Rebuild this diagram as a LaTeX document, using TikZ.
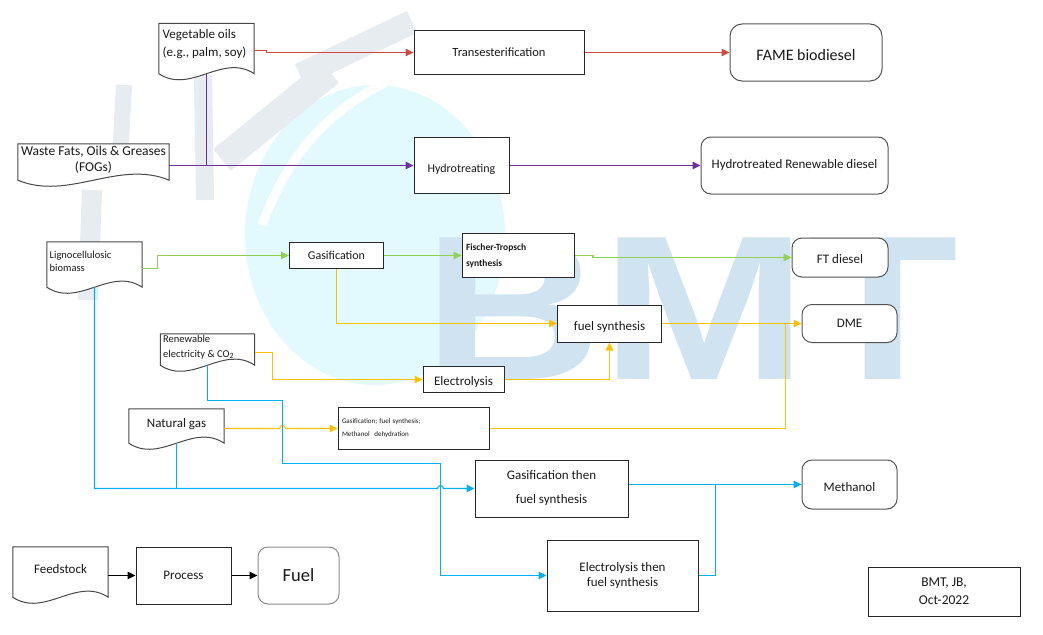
\documentclass[tikz,border=0pt]{standalone}
\usepackage{fontspec}
\setmainfont{Carlito}
\newfontfamily\wmfont{Liberation Sans}
\usetikzlibrary{arrows.meta,calc}
\definecolor{cred}{RGB}{205,72,62}
\definecolor{cpurple}{RGB}{112,48,160}
\definecolor{cgreen}{RGB}{146,208,80}
\definecolor{cyellow}{RGB}{255,192,0}
\definecolor{cblue}{RGB}{0,176,240}
\definecolor{cborder}{RGB}{40,40,40}
\definecolor{ctext}{RGB}{25,25,25}
\definecolor{wmblue}{RGB}{207,227,241}
\definecolor{wmcyan}{RGB}{226,249,253}
\definecolor{wmgrey}{RGB}{231,236,241}
\tikzset{
  every node/.style={text=ctext, inner sep=3pt},
  f13/.style={font=\fontsize{13}{16}\selectfont},
  procbox/.style={draw=cborder, fill=white, line width=1pt, rectangle, f13, align=center},
  fuelbox/.style={draw=cborder!80, fill=white, line width=1pt, rectangle, rounded corners=10pt, f13, align=center},
  docnode/.style={rectangle, inner sep=0pt},
  doctext/.style={inner sep=0pt, f13},
  docline/.style={draw=cborder!85, fill=white, line width=1pt},
  conn/.style={line width=1.1pt, -{Triangle[length=8pt,width=7.5pt]}},
  link/.style={line width=1.1pt},
  wmband/.style={draw=wmgrey, line width=22pt},
}
\newcommand{\docshape}[1]{%
  \path[docline] (#1.north west) -- (#1.north east) -- (#1.south east)
    .. controls ($(#1.south east)!0.333!(#1.south west)+(0pt,21pt)$)
       and ($(#1.south east)!0.667!(#1.south west)+(0pt,-21pt)$) .. (#1.south west) -- cycle;}
\newcommand{\lowered}[2]{\raisebox{-#1}[\height][\depth]{#2}}
\begin{document}
\begin{tikzpicture}[x=1pt,y=-1pt]
\useasboundingbox (0,0) rectangle (1043,634);
\fill[white] (0,0) rectangle (1043,634);
% ---- watermark ----
\fill[wmcyan] (375,235) ellipse [x radius=130pt, y radius=150pt];
\draw[white, line width=9pt] (262,225) .. controls (290,150) and (330,110) .. (390,80);
\draw[wmband, line width=20pt] (88,300) -- (92,190);
\draw[wmband, line width=16pt] (120,160) -- (124,85);
\draw[wmband, line width=18pt] (205,200) -- (203,75);
\draw[wmband, line width=28pt] (222,160) -- (330,72);
\draw[wmband, line width=24pt] (300,75) -- (412,22);
\node[text=wmblue, font=\wmfont\bfseries\fontsize{206}{206}\selectfont, xscale=1.2, inner sep=0pt, anchor=base west] (wm) at (423,379) {BMT};
% ---- nodes ----
\node[docnode, minimum width=95pt, minimum height=50pt] (veg) at (206.5,48.5) {};
\node[docnode, minimum width=151pt, minimum height=36pt] (waste) at (93.5,162) {};
\node[procbox, minimum width=170pt, minimum height=44pt, font=\fontsize{12.5}{15}\selectfont] (trans) at (499,52.5) {Transesterification};
\node[fuelbox, minimum width=152pt, minimum height=57pt, rounded corners=12pt, font=\fontsize{16}{19}\selectfont] (fame) at (806,52.5) {\lowered{3pt}{FAME biodiesel}};
\node[procbox, minimum width=95pt, minimum height=56pt, font=\fontsize{12}{15}\selectfont] (hydro) at (461.5,165.5) {\lowered{4pt}{Hydrotreating}};
\node[fuelbox, minimum width=187pt, minimum height=57pt] (hrd) at (794.5,165.5) {Hydrotreated Renewable diesel};
\node[docnode, minimum width=95pt, minimum height=45pt] (ligno) at (94.5,264.5) {};
\node[procbox, minimum width=94pt, minimum height=26pt, font=\fontsize{12}{15}\selectfont] (gas) at (336.5,255.5) {Gasification};
\node[procbox, minimum width=112pt, minimum height=44pt, align=left, text width=104pt, font=\bfseries\fontsize{9.5}{16}\selectfont] (ft) at (518,255.5) {Fischer-Tropsch\\synthesis};
\node[fuelbox, minimum width=96pt, minimum height=39pt] (ftd) at (840,257.5) {\lowered{2pt}{FT diesel}};
\node[procbox, minimum width=104pt, minimum height=37pt] (fs) at (609.5,323.5) {\lowered{3.5pt}{fuel synthesis}};
\node[fuelbox, minimum width=95pt, minimum height=38pt] (dme) at (849.5,323.5) {DME};
\node[docnode, minimum width=94pt, minimum height=31pt] (renew) at (207.5,349.5) {};
\node[procbox, minimum width=81pt, minimum height=26pt] (elec) at (463.5,379.5) {\lowered{3pt}{Electrolysis}};
\node[docnode, minimum width=95pt, minimum height=34pt] (ng) at (176.5,426) {};
\node[procbox, minimum width=151pt, minimum height=42pt, align=left, text width=143pt, font=\fontsize{7}{13}\selectfont] (gfm) at (413.5,428.5) {Gasification; fuel synthesis;\\Methanol\ \ dehydration};
\node[procbox, minimum width=153pt, minimum height=57pt, font=\fontsize{13}{24}\selectfont] (gtfs) at (551.5,488.5) {Gasification then\\fuel synthesis};
\node[fuelbox, minimum width=95pt, minimum height=49pt] (meth) at (849.5,484.5) {\lowered{3pt}{Methanol}};
\node[procbox, minimum width=151pt, minimum height=71pt, font=\fontsize{13}{15.5}\selectfont] (etfs) at (622.5,575.5) {Electrolysis then\\fuel synthesis};
\node[docnode, minimum width=95pt, minimum height=50pt] (feed) at (60.5,572) {};
\node[procbox, minimum width=95pt, minimum height=57pt] (proc) at (183.5,575.5) {Process};
\node[fuelbox, draw=black!45, minimum width=81pt, minimum height=57pt, font=\fontsize{18.5}{20}\selectfont] (fuel) at (298.5,575.5) {Fuel};
\node[procbox, minimum width=152pt, minimum height=49pt, font=\fontsize{13.5}{18}\selectfont] (bmt) at (944,591.5) {BMT, JB,\\Oct-2022};
% ---- document shapes and their texts ----
\docshape{veg}
\docshape{waste}
\docshape{ligno}
\docshape{renew}
\docshape{ng}
\docshape{feed}
\node[doctext, anchor=west, align=left, font=\fontsize{13}{18}\selectfont] (vegtext) at (162.5,44) {Vegetable oils\\(e.g., palm, soy)};
\node[doctext, align=center, font=\fontsize{13.5}{16}\selectfont] (wastetext) at (93.5,160) {Waste Fats, Oils \& Greases\\(FOGs)};
\node[doctext, anchor=west, align=left, font=\fontsize{10.5}{13}\selectfont] (lignotext) at (49.5,261.5) {Lignocellulosic\\biomass};
\node[doctext, anchor=west, align=left, font=\fontsize{10.5}{15}\selectfont] (renewtext) at (163,347.5) {Renewable\\electricity \& CO\raisebox{-1pt}{\fontsize{8}{8}\selectfont 2}};
\node[doctext] (ngtext) at (176.5,424) {Natural gas};
\node[doctext] (feedtext) at (60.5,569) {Feedstock};
% ---- named junction coordinates ----
\coordinate (vegb) at ($(veg.south west)!0.5!(veg.south east)$);
\coordinate (lignob) at ($(ligno.south west)!0.5!(ligno.south east)$);
\coordinate (renewb) at ($(renew.south west)!0.5!(renew.south east)$);
\coordinate (ngb) at ($(ng.south west)!0.5!(ng.south east)$);
\coordinate (b1) at (282.5,400.5);
\coordinate (b2) at (440.5,463.5);
\coordinate (hopy) at (282.5,428.5);
\coordinate (hopb) at (440.5,488.5);
\coordinate (yj) at (785.5,323.5);
\coordinate (bj) at (715.5,484.5);
% ---- red ----
\draw[conn, cred] ([yshift=-2pt]veg.east) -- ++(12.5pt,0pt) |- (trans.west);
\draw[conn, cred] (trans.east) -- (fame.west);
% ---- purple ----
\draw[link, cpurple] (vegb) -- (vegb |- hydro.west);
\draw[conn, cpurple] (waste.east |- hydro.west) -- (hydro.west);
\draw[conn, cpurple] (hydro.east) -- (hrd.west);
% ---- green ----
\draw[conn, cgreen] ([yshift=-4pt]ligno.east) -- ++(15.5pt,0pt) |- (gas.west);
\draw[conn, cgreen] (gas.east) -- (ft.west);
\draw[conn, cgreen] (ft.east) -- ++(18.5pt,0pt) |- (ftd.west);
% ---- yellow ----
\draw[conn, cyellow] (gas.south) |- (fs.west);
\draw[conn, cyellow] (fs.east) -- (dme.west);
\draw[conn, cyellow] ([yshift=-3pt]renew.east) -- ++(17.5pt,0pt) |- (elec.west);
\draw[conn, cyellow] (elec.east) -| (fs.south);
\draw[conn, cyellow] (ng.east |- gfm.west) -- ([xshift=-3pt]hopy) arc[start angle=180, end angle=0, radius=3pt] -- (gfm.west);
\draw[link, cyellow] (gfm.east) -| (yj);
% ---- blue ----
\draw[conn, cblue] (lignob) |- ([xshift=-3pt]hopb) arc[start angle=180, end angle=0, radius=3pt] -- (gtfs.west);
\draw[link, cblue] (ngb) -- (ngb |- gtfs.west);
\draw[conn, cblue] (renewb) |- (b1) |- (b2) |- (etfs.west);
\draw[conn, cblue] (gtfs.east |- meth.west) -- (meth.west);
\draw[link, cblue] (etfs.east) -| (bj);
% ---- legend ----
\draw[conn, black] (feed.east |- proc.west) -- (proc.west);
\draw[conn, black] (proc.east) -- (fuel.west);
\end{tikzpicture}
\end{document}
